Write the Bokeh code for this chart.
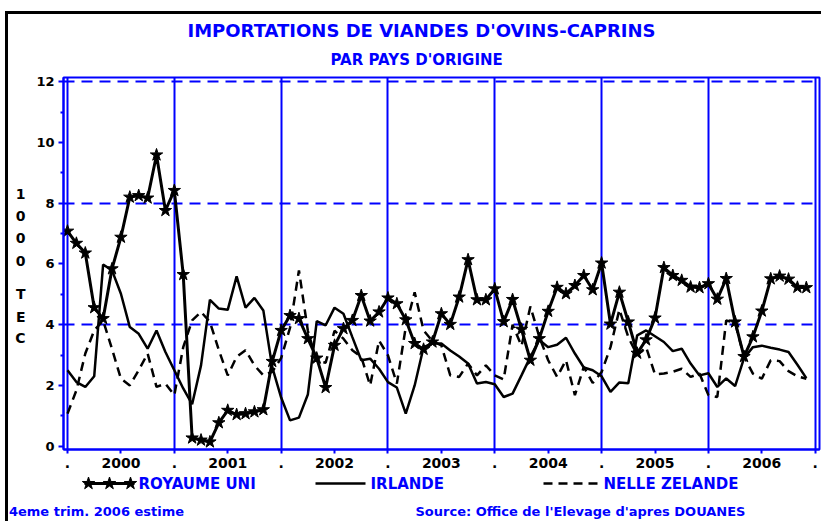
from bokeh.plotting import figure
from bokeh.models import Range1d, FixedTicker, Title, LinearAxis, Label, Spacer
from bokeh.layouts import column, row
from bokeh.embed import file_html
from bokeh.resources import INLINE

# ---------------- data (monthly, Jan 2000 .. Dec 2006, 100 tec) ----------------
months = list(range(84))

royaume_uni = [7.08, 6.68, 6.36, 4.56, 4.20, 5.84, 6.88, 8.20, 8.25, 8.17, 9.59, 7.76,
               8.42, 5.65, 0.27, 0.20, 0.14, 0.77, 1.18, 1.04, 1.07, 1.13, 1.20, 2.79,
               3.81, 4.30, 4.20, 3.54, 2.90, 1.93, 3.32, 3.87, 4.14, 4.96, 4.12, 4.42,
               4.88, 4.69, 4.16, 3.38, 3.19, 3.43, 4.36, 4.01, 4.91, 6.14, 4.82, 4.82,
               5.18, 4.10, 4.83, 3.85, 2.83, 3.54, 4.44, 5.23, 5.02, 5.29, 5.62, 5.15,
               6.03, 4.02, 5.07, 4.09, 3.06, 3.50, 4.22, 5.88, 5.62, 5.46, 5.24, 5.22,
               5.35, 4.84, 5.52, 4.09, 2.95, 3.60, 4.45, 5.51, 5.60, 5.50, 5.23, 5.22]

irlande = [2.50, 2.11, 1.95, 2.30, 5.98, 5.79, 5.02, 3.92, 3.70, 3.21, 3.81, 3.10,
           2.50, 1.90, 1.38, 2.66, 4.82, 4.53, 4.49, 5.59, 4.56, 4.88, 4.47, 2.60,
           1.60, 0.85, 0.94, 1.70, 4.12, 3.98, 4.56, 4.36, 3.59, 2.83, 2.88, 2.55,
           2.11, 1.93, 1.07, 2.00, 3.26, 3.38, 3.38, 3.15, 2.95, 2.72, 2.06, 2.11,
           2.04, 1.62, 1.73, 2.33, 2.94, 3.50, 3.26, 3.34, 3.57, 3.05, 2.59, 2.50,
           2.30, 1.79, 2.10, 2.07, 3.65, 3.81, 3.62, 3.43, 3.13, 3.21, 2.72, 2.33,
           2.40, 1.95, 2.23, 1.98, 2.90, 3.26, 3.31, 3.24, 3.18, 3.10, 2.68, 2.24]

nelle_zelande = [1.07, 1.84, 3.05, 3.81, 4.14, 3.20, 2.22, 2.00, 2.50, 3.05, 1.95, 2.06,
                 1.68, 3.26, 4.14, 4.42, 4.09, 3.16, 2.33, 2.94, 3.16, 2.66, 2.33, 2.45,
                 2.90, 3.90, 5.79, 3.80, 2.80, 2.75, 3.80, 3.54, 3.16, 2.94, 2.00, 3.48,
                 2.99, 2.06, 3.92, 5.07, 3.81, 3.46, 3.32, 2.33, 2.28, 2.72, 2.33, 2.66,
                 2.33, 2.20, 4.00, 3.30, 4.60, 3.60, 2.83, 2.28, 2.83, 1.68, 2.61, 2.08,
                 2.44, 3.26, 4.50, 3.59, 3.00, 3.26, 2.36, 2.39, 2.45, 2.55, 2.28, 2.39,
                 1.68, 1.62, 4.14, 4.06, 2.94, 2.39, 2.22, 2.83, 2.80, 2.47, 2.30, 2.22]

series_names = ["ROYAUME UNI", "IRLANDE", "NELLE ZELANDE"]
years = ["2000", "2001", "2002", "2003", "2004", "2005", "2006"]
year_starts = [0, 12, 24, 36, 48, 60, 72, 84]
y_major = [0, 2, 4, 6, 8, 10, 12]
y_minor = [1, 3, 5, 7, 9, 11]
dashed_levels = [4, 8, 12]

title_text = "IMPORTATIONS DE VIANDES D'OVINS-CAPRINS"
subtitle_text = "PAR PAYS D'ORIGINE"
ylabel_chars = ["1", "0", "0", "0", "T", "E", "C"]
footer_left = "4eme trim. 2006 estime"
footer_right = "Source: Office de l'Elevage d'apres DOUANES"

BLUE = "#0000ff"
FONT = "DejaVu Sans"

# ---------------- main figure ----------------
X0, X1 = -0.45, 84.48
Y0, Y1 = -0.11, 12.14
FW, FH = 756, 372
ML, MR, MT, MB = 55, 2, 63, 25
PAGE_L = 63            # page x of the frame's left edge
PAGE_R = PAGE_L + FW

p = figure(frame_width=FW, frame_height=FH, x_range=Range1d(X0, X1), y_range=Range1d(Y0, Y1),
           output_backend="svg", toolbar_location=None, title=None,
           min_border_left=ML, min_border_right=MR, min_border_top=MT, min_border_bottom=MB)
p.background_fill_color = "white"
p.border_fill_color = "white"
p.outline_line_color = BLUE
p.outline_line_width = 2

# helper range in canvas pixels (used to place the stacked y label)
p.extra_y_ranges = {"py": Range1d(MT + FH, MT)}

# grids
p.xgrid.ticker = FixedTicker(ticks=year_starts)
p.xgrid.grid_line_color = BLUE
p.xgrid.grid_line_width = 2
p.ygrid.ticker = FixedTicker(ticks=dashed_levels)
p.ygrid.grid_line_color = BLUE
p.ygrid.grid_line_width = 2
p.ygrid.grid_line_dash = "11 7"

# axes
xt = list(range(0, 85, 6))
labels = {t: ("." if t % 12 == 0 else years[t // 12]) for t in xt}
p.xaxis.ticker = FixedTicker(ticks=xt)
p.xaxis.major_label_overrides = labels
p.yaxis.ticker = FixedTicker(ticks=y_major, minor_ticks=y_minor)
for ax in (p.xaxis[0], p.yaxis[0]):
    ax.axis_line_color = BLUE
    ax.axis_line_width = 2
    ax.major_tick_line_color = BLUE
    ax.major_tick_line_width = 2
    ax.minor_tick_line_color = BLUE
    ax.minor_tick_line_width = 2
    ax.major_tick_in = 0
    ax.minor_tick_in = 0
    ax.major_label_text_font = FONT
    ax.major_label_text_font_style = "bold"
    ax.major_label_text_color = "black"
p.xaxis.major_tick_out = 4
p.xaxis.minor_tick_out = 0
p.xaxis.major_label_text_font_size = "14px"
p.xaxis.major_label_standoff = 4
p.yaxis.major_tick_out = 5
p.yaxis.minor_tick_out = 3
p.yaxis.major_label_text_font_size = "13px"
p.yaxis.major_label_standoff = 4

# stacked y label "1000 TEC" as an extra axis (positions in canvas pixels)
ylab_pos = [179, 201, 223, 246, 279, 302, 323]
ylab = LinearAxis(y_range_name="py", ticker=FixedTicker(ticks=ylab_pos),
                  major_label_overrides={pos: ch for pos, ch in zip(ylab_pos, ylabel_chars)})
ylab.axis_line_color = None
ylab.major_tick_line_color = None
ylab.minor_tick_line_color = None
ylab.major_label_standoff = 2
ylab.major_label_text_font = FONT
ylab.major_label_text_font_size = "14px"
ylab.major_label_text_font_style = "bold"
ylab.major_label_text_color = "black"
p.add_layout(ylab, "left")

# series
p.line(months, nelle_zelande, line_color="black", line_width=2.5, line_dash="9 6")
p.line(months, irlande, line_color="black", line_width=2.5)
p.line(months, royaume_uni, line_color="black", line_width=3)
p.scatter(months, royaume_uni, marker="star", size=13, fill_color="black",
          line_color="black", line_width=1)

# titles
sub = Title(text=subtitle_text, align="left", offset=267, standoff=17,
            text_font=FONT, text_font_size="15px", text_font_style="bold", text_color=BLUE)
ttl = Title(text=title_text, align="left", offset=124, standoff=0,
            text_font=FONT, text_font_size="18px", text_font_style="bold", text_color=BLUE)
p.add_layout(sub, "above")
p.add_layout(ttl, "above")

# ---------------- legend + footer strip (x in page pixels) ----------------
LH = 18
pl = figure(frame_width=FW, frame_height=LH, x_range=Range1d(PAGE_L, PAGE_R),
            y_range=Range1d(0, 1), output_backend="svg", toolbar_location=None, title=None,
            x_axis_location="below", y_axis_location=None,
            min_border_left=ML, min_border_right=MR, min_border_top=0, min_border_bottom=28)
pl.grid.visible = False
pl.outline_line_color = None
pl.background_fill_color = "white"
pl.border_fill_color = "white"

# legend keys (layout positions of the key samples and their labels)
key_ru = [84, 134]
key_ru_stars = [88, 109, 130]
key_ir = [315, 365]
key_nz = [543, 598]
key_text_x = [138, 370, 603]
pl.line(key_ru, [0.5, 0.5], line_color="black", line_width=3)
pl.scatter(key_ru_stars, [0.5] * 3, marker="star", size=13, fill_color="black",
           line_color="black", line_width=1)
pl.line(key_ir, [0.5, 0.5], line_color="black", line_width=2.5)
pl.line(key_nz, [0.5, 0.5], line_color="black", line_width=2.5, line_dash="9 6")
for name, tx in zip(series_names, key_text_x):
    pl.add_layout(Label(x=tx, y=0.5, text=name, text_align="left", text_baseline="middle",
                        text_font=FONT, text_font_size="15px", text_font_style="bold",
                        text_color=BLUE))

# footer notes as the strip's axis labels
foot_pos = [96, 580]
pl.xaxis.ticker = FixedTicker(ticks=foot_pos)
pl.xaxis.major_label_overrides = {foot_pos[0]: footer_left, foot_pos[1]: footer_right}
pl.xaxis.axis_line_color = None
pl.xaxis.major_tick_line_color = None
pl.xaxis.minor_tick_line_color = None
pl.xaxis.major_tick_out = 0
pl.xaxis.major_tick_in = 0
pl.xaxis.major_label_standoff = 11
pl.xaxis.major_label_text_font = FONT
pl.xaxis.major_label_text_font_size = "13px"
pl.xaxis.major_label_text_font_style = "bold"
pl.xaxis.major_label_text_color = BLUE

inner = column(p, pl, spacing=0,
               styles={"border-top": "3px solid black", "border-left": "3px solid black"})
root = column(Spacer(height=11), row(Spacer(width=5), inner, spacing=0), spacing=0)

open("out.html", "w").write(file_html(root, INLINE))
